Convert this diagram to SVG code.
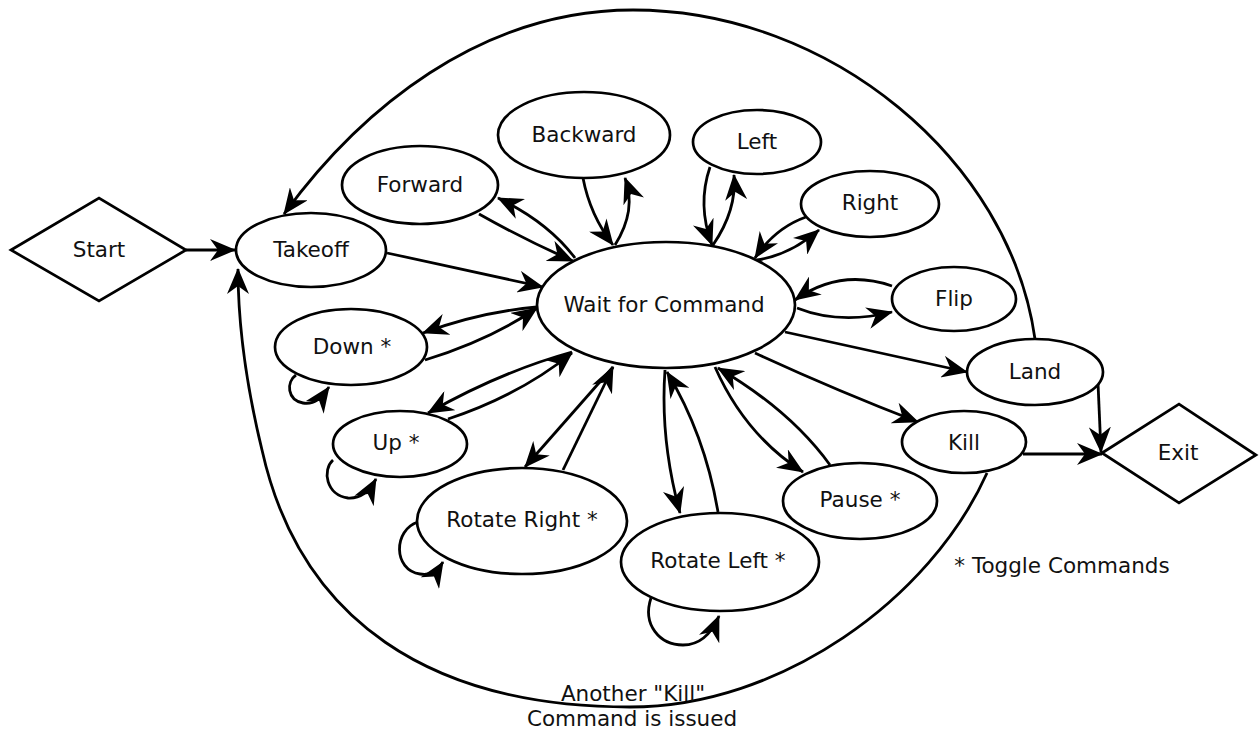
<svg xmlns="http://www.w3.org/2000/svg" width="1259" height="730" viewBox="0 0 1259 730">
<style>
.n{fill:#fff;stroke:#000;stroke-width:2.7}
.t{font-family:"DejaVu Sans",sans-serif;font-size:21.5px;fill:#111;text-anchor:middle}
.e{fill:none;stroke:#000;stroke-width:2.8}
.a{marker-end:url(#ah)}
</style>
<defs>
<marker id="ah" viewBox="0 0 26 22" refX="25" refY="11" markerWidth="26" markerHeight="22" markerUnits="userSpaceOnUse" orient="auto">
<path d="M0,0 L26,11 L0,22 L8,11 z" fill="#000"/>
</marker>
</defs>
<rect width="1259" height="730" fill="#fff"/>
<g id="connectors">
<path class="e a" d="M1035,339 C1010,160 830,10 633,10 C480,10 360,110 284,214"/>
<path class="e a" d="M987,473 C930,600 780,707 630,707 C430,707 300,620 262,450 C245,380 238,320 238,269"/>
<path class="e a" d="M186,250 L235,250"/>
<path class="e a" d="M387,253 L543,287"/>
<path class="e a" d="M479,214 Q525,240 573,261"/>
<path class="e a" d="M575,258 Q548,222 498,198"/>
<path class="e a" d="M583,178 Q590,215 613,245"/>
<path class="e a" d="M615,245 Q637,210 625,178"/>
<path class="e a" d="M710,167 Q697,205 712,245"/>
<path class="e a" d="M713,245 Q737,210 734,175"/>
<path class="e a" d="M806,217 Q775,228 755,258"/>
<path class="e a" d="M757,260 Q790,255 819,230"/>
<path class="e a" d="M892,286 Q840,268 795,300"/>
<path class="e a" d="M797,308 Q840,325 892,312"/>
<path class="e a" d="M785,332 L967,372"/>
<path class="e a" d="M755,353 Q835,390 918,422"/>
<path class="e a" d="M1098,383 L1101,452"/>
<path class="e a" d="M1023,454 L1102,454"/>
<path class="e a" d="M715,367 Q745,435 803,472"/>
<path class="e a" d="M830,465 Q790,410 718,368"/>
<path class="e a" d="M665,370 Q660,440 680,513"/>
<path class="e a" d="M718,512 Q705,435 667,372"/>
<path class="e a" d="M613,367 L525,467"/>
<path class="e a" d="M563,470 L613,367"/>
<path class="e a" d="M572,352 Q500,372 428,413"/>
<path class="e a" d="M448,419 Q520,395 572,353"/>
<path class="e a" d="M537,307 Q480,312 423,333"/>
<path class="e a" d="M425,360 Q490,340 537,308"/>
<path class="e a" d="M296,375 C286,382 287,400 303,403 C315,405 322,397 329,387"/>
<path class="e a" d="M333,460 C322,470 326,495 348,498 C362,499 370,490 376,479"/>
<path class="e a" d="M418,522 C393,530 393,570 420,574 C432,576 438,570 443,562"/>
<path class="e a" d="M651,598 C642,625 660,645 683,645 C702,645 713,630 719,616"/>
</g>
<g id="start"><path class="n" d="M11,250 L99,198 L186,250 L99,301 z"/><text class="t" x="99" y="257">Start</text></g>
<g id="takeoff"><ellipse class="n" cx="311" cy="250" rx="75" ry="37"/><text class="t" x="311" y="257">Takeoff</text></g>
<g id="forward"><ellipse class="n" cx="420" cy="185" rx="78" ry="39"/><text class="t" x="420" y="192">Forward</text></g>
<g id="backward"><ellipse class="n" cx="584" cy="135" rx="86" ry="43"/><text class="t" x="584" y="142">Backward</text></g>
<g id="left"><ellipse class="n" cx="757" cy="142" rx="64" ry="32"/><text class="t" x="757" y="149">Left</text></g>
<g id="right"><ellipse class="n" cx="870" cy="204" rx="69" ry="33"/><text class="t" x="870" y="210">Right</text></g>
<g id="flip"><ellipse class="n" cx="954" cy="299" rx="62" ry="32"/><text class="t" x="954" y="306">Flip</text></g>
<g id="land"><ellipse class="n" cx="1035" cy="372" rx="68" ry="33"/><text class="t" x="1035" y="379">Land</text></g>
<g id="kill"><ellipse class="n" cx="964" cy="442" rx="62" ry="31"/><text class="t" x="964" y="450">Kill</text></g>
<g id="exit"><path class="n" d="M1102,453 L1179,404 L1256,455 L1179,503 z"/><text class="t" x="1178" y="460">Exit</text></g>
<g id="pause"><ellipse class="n" cx="860" cy="501" rx="77" ry="38"/><text class="t" x="860" y="507">Pause *</text></g>
<g id="rotate-left"><ellipse class="n" cx="720" cy="562" rx="99" ry="49"/><text class="t" x="718" y="568">Rotate Left *</text></g>
<g id="rotate-right"><ellipse class="n" cx="522" cy="521" rx="105" ry="53"/><text class="t" x="522" y="527">Rotate Right *</text></g>
<g id="up"><ellipse class="n" cx="400" cy="444" rx="67" ry="33"/><text class="t" x="396" y="450">Up *</text></g>
<g id="down"><ellipse class="n" cx="351" cy="347" rx="76" ry="38"/><text class="t" x="352" y="354">Down *</text></g>
<g id="wait"><ellipse class="n" cx="666" cy="305" rx="129" ry="63"/><text class="t" x="664" y="312">Wait for Command</text></g>
<g id="notes">
<text class="t" x="1062" y="573">* Toggle Commands</text>
<text class="t" x="633" y="701">Another "Kill"</text>
<text class="t" x="632" y="726">Command is issued</text>
</g>
</svg>
